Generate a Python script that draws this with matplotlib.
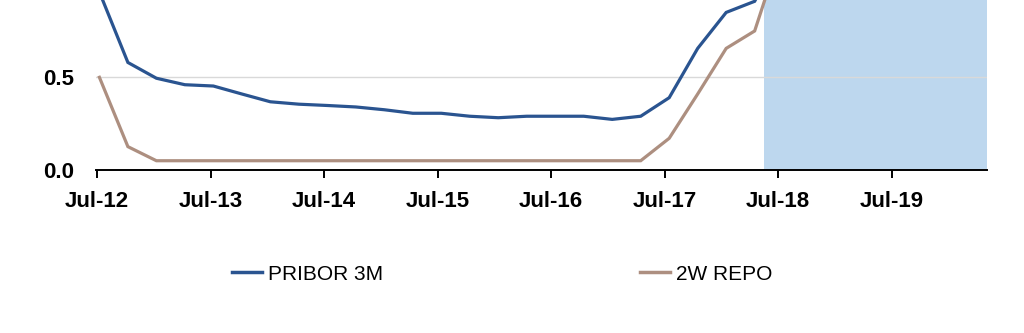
import matplotlib
matplotlib.use("Agg")
import matplotlib.pyplot as plt
from matplotlib.lines import Line2D

# Quarterly observations starting Jul-2012 (x in fractional years)
start_year = 2012.52
step = 0.251
pribor_3m = [0.96, 0.58, 0.495, 0.46, 0.453, 0.41, 0.368, 0.355, 0.348, 0.34,
             0.325, 0.306, 0.306, 0.29, 0.282, 0.29, 0.29, 0.29, 0.273, 0.29,
             0.39, 0.656, 0.85, 0.91, 1.20]
repo_2w = [0.5, 0.126, 0.05, 0.05, 0.05, 0.05, 0.05, 0.05, 0.05, 0.05,
           0.05, 0.05, 0.05, 0.05, 0.05, 0.05, 0.05, 0.05, 0.05, 0.05,
           0.171, 0.41, 0.656, 0.75, 1.22]
x_dates = [start_year + step * i for i in range(len(pribor_3m))]

tick_years = [2012.5, 2013.5, 2014.5, 2015.5, 2016.5, 2017.5, 2018.5, 2019.5]
tick_labels = ["Jul-12", "Jul-13", "Jul-14", "Jul-15", "Jul-16", "Jul-17", "Jul-18", "Jul-19"]
y_ticks = [0.0, 0.5]
y_labels = ["0.0", "0.5"]
forecast_start = 2018.377
x_end = 2020.34

series_names = ["PRIBOR 3M", "2W REPO"]
blue = "#2A5490"
brown = "#AD8F80"

plt.rcParams["font.family"] = ["Liberation Sans", "DejaVu Sans"]

fig = plt.figure(figsize=(10.24, 3.33), dpi=100)
ax = fig.add_axes([96 / 1024, 163 / 333, (987 - 96) / 1024, 170 / 333])

ax.axvspan(forecast_start, x_end, color="#BDD7EE", zorder=0, lw=0)
ax.axhline(0.5, color="#D9D9D9", lw=1.0, zorder=1)

ax.plot(x_dates, pribor_3m, color=blue, lw=2.3, zorder=3, solid_joinstyle="miter")
ax.plot(x_dates, repo_2w, color=brown, lw=2.3, zorder=3, solid_joinstyle="miter")

ax.set_xlim(2012.49, x_end)
ax.set_ylim(0, 0.917)

for s in ["top", "right", "left"]:
    ax.spines[s].set_visible(False)
ax.spines["bottom"].set_linewidth(1.4)
ax.spines["bottom"].set_color("black")

ax.set_xticks(tick_years)
ax.set_xticklabels(tick_labels, fontsize=16, fontweight="bold")
ax.tick_params(axis="x", direction="out", length=5.5, width=1.4, pad=9.5)
ax.set_yticks(y_ticks)
ax.set_yticklabels(y_labels, fontsize=16, fontweight="bold")
ax.tick_params(axis="y", length=0, pad=16)

h1 = Line2D([], [], color=blue, lw=2.5)
h2 = Line2D([], [], color=brown, lw=2.5)
fig.legend([h1], [series_names[0]], loc="center left", bbox_to_anchor=(232 / 1024, 1 - 274 / 333),
           frameon=False, fontsize=15, handlelength=1.45, handletextpad=0.3,
           borderpad=0, borderaxespad=0)
fig.legend([h2], [series_names[1]], loc="center left", bbox_to_anchor=(640 / 1024, 1 - 274 / 333),
           frameon=False, fontsize=15, handlelength=1.45, handletextpad=0.3,
           borderpad=0, borderaxespad=0)

fig.savefig("out.png", dpi=100)
